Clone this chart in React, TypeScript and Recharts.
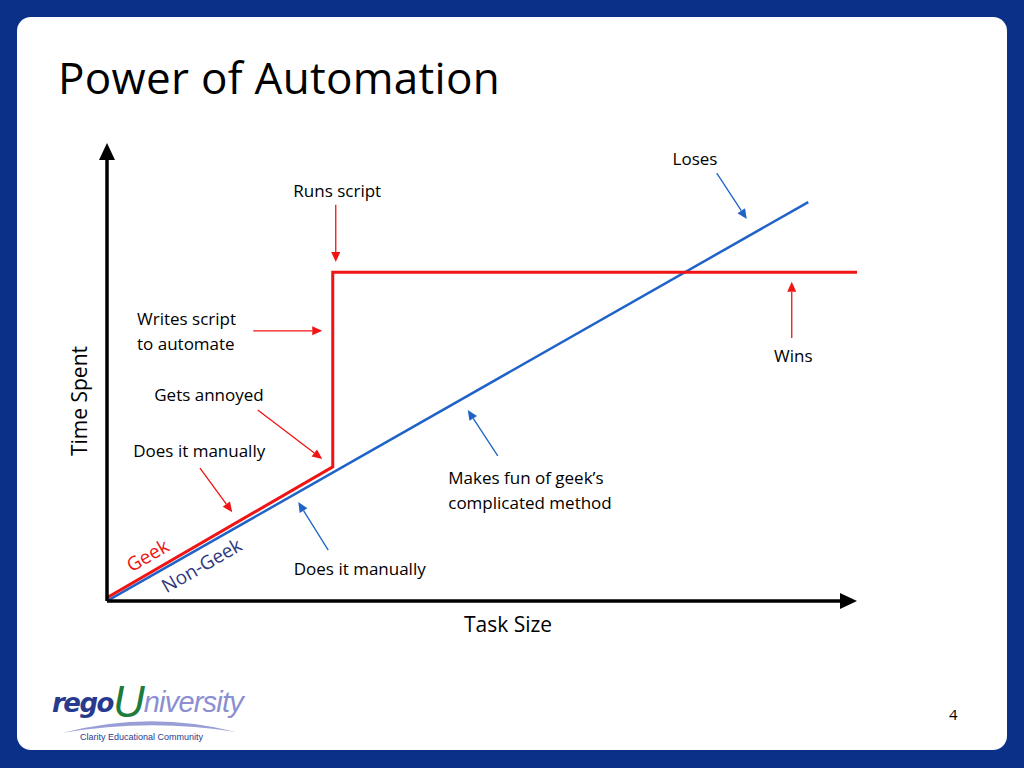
import React from "react";
import {
  LineChart,
  Line,
  XAxis,
  YAxis,
  ReferenceLine,
  ReferenceDot,
} from "recharts";

// ---- Data (arbitrary units: Task Size 0-100, Time Spent 0-100) ----
const geekSeries = [
  { x: 0, y: 0.7 },
  { x: 30.1, y: 29.3 },
  { x: 30.1, y: 71.8 },
  { x: 100, y: 71.8 },
];

const nonGeekSeries = [
  { x: 0, y: 0 },
  { x: 93.5, y: 87.1 },
];

// annotation arrows: from -> to (data units), colour key
const annotationArrows = [
  { from: [81.3, 93.4], to: [85.3, 83.4], kind: "blue" },
  { from: [30.5, 86.5], to: [30.5, 74.0], kind: "red" },
  { from: [19.5, 59.0], to: [28.7, 59.0], kind: "red" },
  { from: [20.1, 41.7], to: [28.7, 31.0], kind: "red" },
  { from: [12.4, 29.0], to: [16.7, 19.4], kind: "red" },
  { from: [29.5, 11.1], to: [25.5, 21.6], kind: "blue" },
  { from: [52.1, 31.7], to: [48.1, 41.7], kind: "blue" },
  { from: [91.3, 57.4], to: [91.3, 69.7], kind: "red" },
];

// annotation texts (data units)
const annotationTexts = [
  { x: 78.4, y: 96.7, text: "Loses", anchor: "middle" },
  { x: 30.7, y: 89.7, text: "Runs script", anchor: "middle" },
  { x: 4.0, y: 61.6, text: "Writes script", anchor: "start" },
  { x: 4.0, y: 56.3, text: "to automate", anchor: "start" },
  { x: 6.3, y: 45.0, text: "Gets annoyed", anchor: "start" },
  { x: 3.5, y: 32.8, text: "Does it manually", anchor: "start" },
  { x: 45.5, y: 26.9, text: "Makes fun of geek’s", anchor: "start" },
  { x: 45.5, y: 21.6, text: "complicated method", anchor: "start" },
  { x: 91.5, y: 53.7, text: "Wins", anchor: "middle" },
  { x: 24.9, y: 7.0, text: "Does it manually", anchor: "start" },
];

const seriesLabels = [
  { x: 5.4, y: 10.0, text: "Geek", kind: "geek" },
  { x: 12.6, y: 7.8, text: "Non-Geek", kind: "nongeek" },
];

const FONT = "'Open Sans', sans-serif";
const RED = "#f01414";
const BLUE = "#1f62c8";
const NAVY = "#0b3087";

function arrowShape(color: string, width: number, headLen: number, headHalf: number) {
  return (p: any) => {
    const { x1, y1, x2, y2 } = p;
    const dx = x2 - x1;
    const dy = y2 - y1;
    const len = Math.sqrt(dx * dx + dy * dy) || 1;
    const ux = dx / len;
    const uy = dy / len;
    const bx = x2 - ux * headLen;
    const by = y2 - uy * headLen;
    const px = -uy * headHalf;
    const py = ux * headHalf;
    return (
      <g>
        <line x1={x1} y1={y1} x2={bx} y2={by} stroke={color} strokeWidth={width} />
        <polygon
          points={`${x2},${y2} ${bx + px},${by + py} ${bx - px},${by - py}`}
          fill={color}
        />
      </g>
    );
  };
}

function textShape(text: string, anchor: string, color: string, size: number, rotate = 0) {
  return (p: any) => {
    const { cx, cy } = p;
    return (
      <text
        x={cx}
        y={cy}
        textAnchor={anchor as any}
        dominantBaseline="central"
        fill={color}
        fontSize={size}
        fontFamily={FONT}
        transform={rotate ? `rotate(${rotate} ${cx} ${cy})` : undefined}
      >
        {text}
      </text>
    );
  };
}

export default function App() {
  return (
    <div
      style={{
        position: "fixed",
        left: 0,
        top: 0,
        width: 1024,
        height: 768,
        background: NAVY,
        overflow: "hidden",
        fontFamily: FONT,
      }}
    >
      <div
        style={{
          position: "absolute",
          left: 17,
          top: 17,
          width: 990,
          height: 733,
          background: "#ffffff",
          borderRadius: 14,
        }}
      />
      <div
        style={{
          position: "absolute",
          left: 58,
          top: 48,
          fontSize: 44,
          color: "#000",
          lineHeight: "58px",
          whiteSpace: "nowrap",
          letterSpacing: 0.3,
        }}
      >
        Power of Automation
      </div>

      <div style={{ position: "absolute", left: 0, top: 0 }}>
        <LineChart
          width={1024}
          height={768}
          margin={{ left: 107, right: 167, top: 143, bottom: 167 }}
        >
          <XAxis type="number" dataKey="x" domain={[0, 100]} hide allowDataOverflow />
          <YAxis type="number" dataKey="y" domain={[0, 100]} hide allowDataOverflow />

          <Line
            data={nonGeekSeries}
            dataKey="y"
            type="linear"
            stroke={BLUE}
            strokeWidth={2.5}
            dot={false}
            isAnimationActive={false}
          />
          <Line
            data={geekSeries}
            dataKey="y"
            type="linear"
            stroke={RED}
            strokeWidth={3}
            dot={false}
            isAnimationActive={false}
          />

          {/* axes with arrows */}
          <ReferenceLine
            segment={[{ x: 0, y: 0 }, { x: 100, y: 0 }]}
            ifOverflow="visible"
            shape={arrowShape("#000", 3.5, 17, 8)}
          />
          <ReferenceLine
            segment={[{ x: 0, y: 0 }, { x: 0, y: 100 }]}
            ifOverflow="visible"
            shape={arrowShape("#000", 3.5, 17, 8)}
          />

          {annotationArrows.map((a, i) => (
            <ReferenceLine
              key={"arr" + i}
              segment={[
                { x: a.from[0], y: a.from[1] },
                { x: a.to[0], y: a.to[1] },
              ]}
              ifOverflow="visible"
              shape={arrowShape(a.kind === "red" ? RED : BLUE, 1.3, 10, 4.5)}
            />
          ))}

          {annotationTexts.map((t, i) => (
            <ReferenceDot
              key={"txt" + i}
              x={t.x}
              y={t.y}
              ifOverflow="visible"
              shape={textShape(t.text, t.anchor, "#000", 17)}
            />
          ))}

          {seriesLabels.map((s, i) => (
            <ReferenceDot
              key={"sl" + i}
              x={s.x}
              y={s.y}
              ifOverflow="visible"
              shape={textShape(
                s.text,
                "middle",
                s.kind === "geek" ? RED : "#2e3880",
                19,
                -30
              )}
            />
          ))}
        </LineChart>
      </div>

      {/* axis titles */}
      <div
        style={{
          position: "absolute",
          left: 408,
          width: 200,
          top: 609,
          textAlign: "center",
          fontSize: 21,
          lineHeight: "30px",
          color: "#000",
        }}
      >
        Task Size
      </div>
      <div
        style={{
          position: "absolute",
          left: -21,
          top: 386,
          width: 200,
          textAlign: "center",
          fontSize: 21,
          lineHeight: "30px",
          color: "#000",
          transform: "rotate(-90deg)",
          transformOrigin: "100px 15px",
        }}
      >
        Time Spent
      </div>

      {/* logo */}
      <svg
        style={{ position: "absolute", left: 40, top: 670 }}
        width={230}
        height={80}
      >
        <text x={12} y={42} fontStyle="italic">
          <tspan
            fontFamily="'DejaVu Sans', sans-serif"
            fontWeight="bold"
            fontSize={26}
            fill="#283a8e"
            letterSpacing={-1.5}
          >
            rego
          </tspan>
          <tspan
            fontFamily="'Liberation Sans', sans-serif"
            fontSize={44}
            fill="#1d7b3c"
            dy={5}
            letterSpacing={-1}
          >
            U
          </tspan>
          <tspan
            fontFamily="'Liberation Sans', sans-serif"
            fontSize={29}
            fill="#8b8fd2"
            dy={-5}
            letterSpacing={-0.8}
          >
            niversity
          </tspan>
        </text>
        <path d="M 22 63 Q 110 40 196 62 Q 110 48 22 63 Z" fill="#9a9ed6" />
        <text
          x={40}
          y={70}
          fontFamily="'Liberation Sans', sans-serif"
          fontSize={9}
          fill="#283a8e"
        >
          Clarity Educational Community
        </text>
      </svg>

      <div
        style={{
          position: "absolute",
          left: 949,
          top: 703,
          fontSize: 15,
          color: "#000",
          lineHeight: "22px",
        }}
      >
        4
      </div>
    </div>
  );
}
